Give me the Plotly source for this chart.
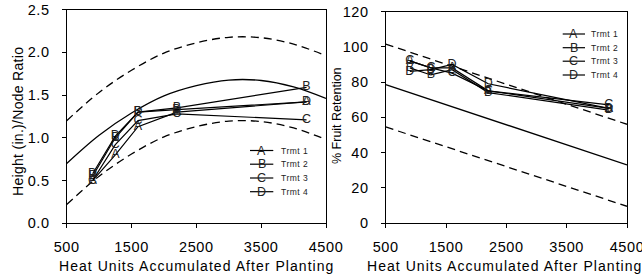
import plotly.graph_objects as go

# ---------------- data ----------------
heat_units = [900, 1250, 1600, 2200, 4200]

# Left panel: Height (in.)/Node ratio
height_t1 = [0.50, 0.80, 1.13, 1.30, 1.42]
height_t2 = [0.55, 1.00, 1.30, 1.35, 1.59]
height_t3 = [0.50, 0.92, 1.20, 1.28, 1.21]
height_t4 = [0.58, 1.02, 1.30, 1.33, 1.42]

curve_x = [500, 1000, 1500, 2000, 2500, 3000, 3500, 4000, 4500]
height_target = [0.70, 1.03, 1.29, 1.49, 1.61, 1.675, 1.67, 1.595, 1.46]
height_upper = [1.20, 1.53, 1.79, 1.99, 2.11, 2.175, 2.17, 2.095, 1.96]
height_lower = [0.22, 0.55, 0.81, 1.01, 1.13, 1.195, 1.19, 1.115, 0.98]

# Right panel: % fruit retention
ret_t1 = [92, 88, 88, 75, 65]
ret_t2 = [88, 84, 87, 74, 64]
ret_t3 = [92, 88, 85, 75, 67]
ret_t4 = [86, 87, 90, 79, 65]

line_x = [500, 4500]
ret_target = [78.5, 33.0]
ret_upper = [101.5, 56.0]
ret_lower = [54.5, 9.5]

trmt_names = ["Trmt 1", "Trmt 2", "Trmt 3", "Trmt 4"]
trmt_letters = ["A", "B", "C", "D"]

x_ticks = [500, 1500, 2500, 3500, 4500]

FONT = "Liberation Sans, Arial, sans-serif"
W, H = 642, 278
LETTER_SIZE = 12.5

def spaced(s, px):
    return '<span style="letter-spacing:%spx">%s</span>' % (px, s)

fig = go.Figure()

def add_curve(x, y, dash, xa, ya, shape="linear"):
    fig.add_trace(go.Scatter(x=x, y=y, mode="lines", xaxis=xa, yaxis=ya,
                             line=dict(color="black", width=1.3, dash=dash, shape=shape),
                             showlegend=False, hoverinfo="skip"))

# left curves
add_curve(curve_x, height_upper, "8px,5px", "x", "y", "spline")
add_curve(curve_x, height_target, "solid", "x", "y", "spline")
add_curve(curve_x, height_lower, "8px,5px", "x", "y", "spline")
# right lines
add_curve(line_x, ret_upper, "8px,5px", "x2", "y2")
add_curve(line_x, ret_target, "solid", "x2", "y2")
add_curve(line_x, ret_lower, "8px,5px", "x2", "y2")

left_series = [height_t1, height_t2, height_t3, height_t4]
right_series = [ret_t1, ret_t2, ret_t3, ret_t4]
for xa, ya, series in (("x", "y", left_series), ("x2", "y2", right_series)):
    for name, letter, ys in zip(trmt_names, trmt_letters, series):
        fig.add_trace(go.Scatter(x=heat_units, y=ys, mode="lines+text", name=name,
                                 text=[letter] * len(ys), textposition="middle center",
                                 textfont=dict(family=FONT, size=LETTER_SIZE, color="#222"),
                                 line=dict(color="black", width=1.2), xaxis=xa, yaxis=ya,
                                 showlegend=False))

axis_common = dict(showline=True, linecolor="black", linewidth=1.3, mirror=True,
                   ticks="outside", ticklen=4, tickcolor="black", tickwidth=1.3,
                   showgrid=False, zeroline=False, automargin=False,
                   ticklabeloverflow="allow",
                   tickfont=dict(family=FONT, size=14.5, color="black"))

x_ticktext = [spaced(str(v), 0.6) for v in x_ticks]
y1_vals = [0, 0.5, 1.0, 1.5, 2.0, 2.5]
y2_vals = [0, 20, 40, 60, 80, 100, 120]

fig.update_layout(
    width=W, height=H,
    margin=dict(l=0, r=0, t=0, b=0),
    paper_bgcolor="white", plot_bgcolor="white",
    showlegend=False,
    xaxis=dict(domain=[66.7 / W, 326 / W], range=[500, 4500], tickvals=x_ticks,
               ticktext=x_ticktext, anchor="y", ticklabelstandoff=6, **axis_common),
    yaxis=dict(domain=[(H - 223.3) / H, (H - 9.5) / H], range=[0, 2.5],
               tickvals=y1_vals, ticktext=[spaced("%.1f" % v, 0.6) for v in y1_vals],
               anchor="x", ticklabelstandoff=9, **axis_common),
    xaxis2=dict(domain=[385.7 / W, 627 / W], range=[500, 4500], tickvals=x_ticks,
                ticktext=x_ticktext, anchor="y2", ticklabelstandoff=6, **axis_common),
    yaxis2=dict(domain=[(H - 223) / H, (H - 11.5) / H], range=[0, 120],
                tickvals=y2_vals, ticktext=[spaced(str(v), 0.6) for v in y2_vals],
                anchor="x2", ticklabelstandoff=9, **axis_common),
)

ann = []
shapes = []
# axis titles
xtitle = spaced("Heat Units Accumulated After Planting", 1.05)
for cx in (196.3, 504):
    ann.append(dict(text=xtitle, x=cx / W, y=1 - 266 / H, xref="paper", yref="paper",
                    showarrow=False, xanchor="center", yanchor="middle",
                    font=dict(family=FONT, size=14, color="black")))
ann.append(dict(text=spaced("Height (in.)/Node Ratio", 0.3), x=18 / W, y=1 - 122 / H,
                xref="paper", yref="paper", showarrow=False, textangle=-90,
                xanchor="center", yanchor="middle",
                font=dict(family=FONT, size=14, color="black")))
ann.append(dict(text="% Fruit Retention", x=337 / W, y=1 - 116 / H, xref="paper",
                yref="paper", showarrow=False, textangle=-90, xanchor="center",
                yanchor="middle", font=dict(family=FONT, size=12.5, color="black")))

# custom legends
def legend(x0, x1, xl, xt, rows):
    for name, letter, yy in zip(trmt_names, trmt_letters, rows):
        yp = 1 - yy / H
        shapes.append(dict(type="line", xref="paper", yref="paper", x0=x0 / W, x1=x1 / W,
                           y0=yp, y1=yp, line=dict(color="black", width=1.2)))
        ann.append(dict(text=letter, x=xl / W, y=yp, xref="paper", yref="paper",
                        showarrow=False, xanchor="center", yanchor="middle",
                        font=dict(family=FONT, size=LETTER_SIZE, color="#222")))
        ann.append(dict(text=spaced(name, 0.5), x=xt / W, y=yp, xref="paper", yref="paper",
                        showarrow=False, xanchor="left", yanchor="middle",
                        font=dict(family=FONT, size=8.5, color="#222")))

legend(250, 273.3, 261.5, 279, [150.5, 164.2, 178.0, 191.7])
legend(562.7, 585, 573.5, 589, [34, 47.7, 61.2, 75])

fig.update_layout(annotations=ann, shapes=shapes)
fig.write_html(
    "out.html",
    config={"displayModeBar": False},
    post_script="document.body.style.margin='0';document.body.style.overflow='hidden';",
)
